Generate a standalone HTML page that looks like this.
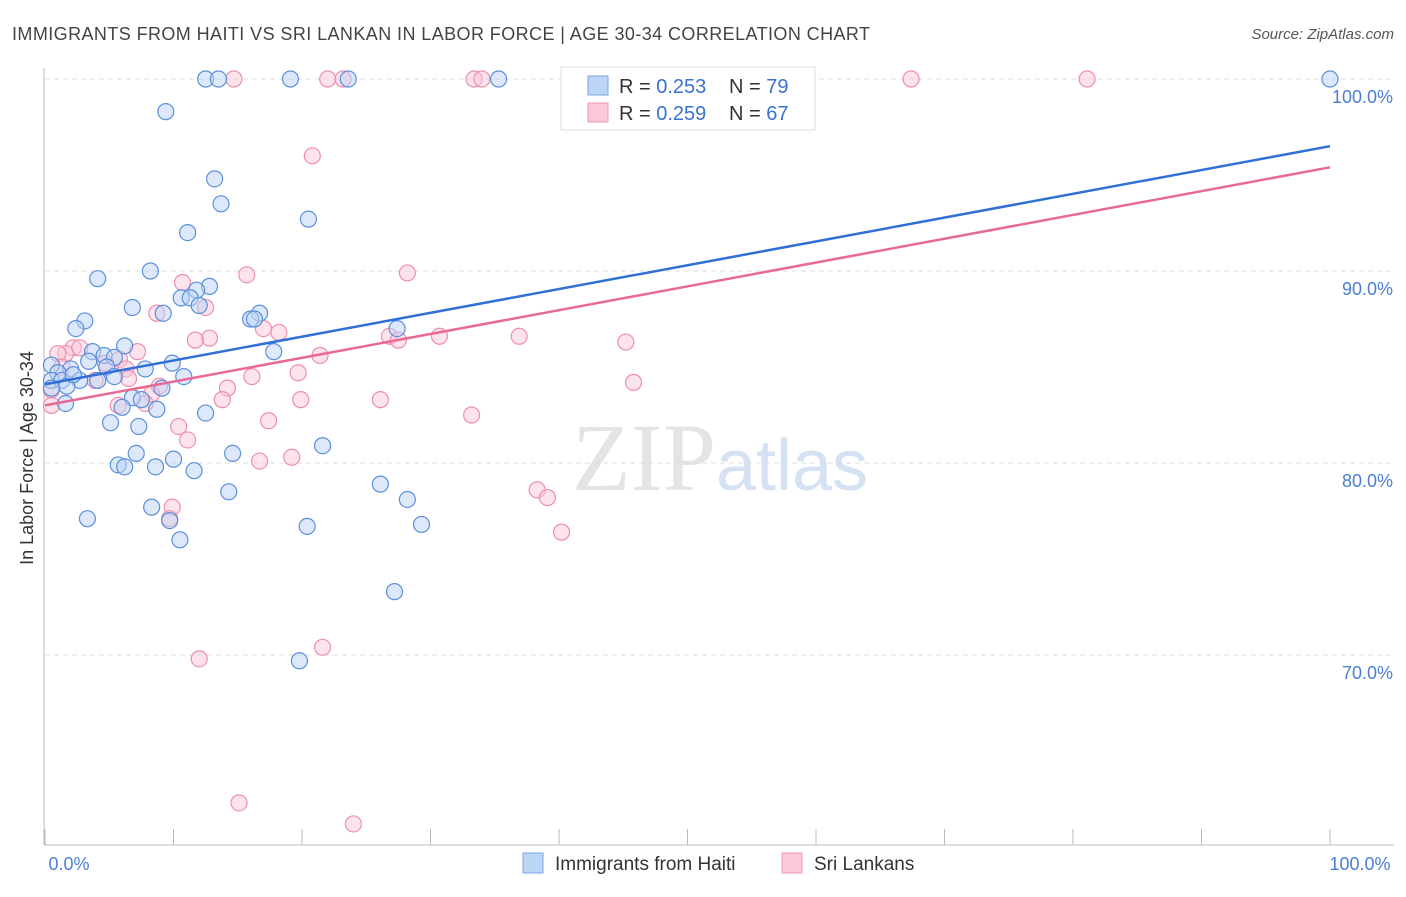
<!DOCTYPE html>
<html><head><meta charset="utf-8"><style>
body{margin:0;background:#fff;font-family:"Liberation Sans",sans-serif}
</style></head><body>
<svg width="1406" height="892" xmlns="http://www.w3.org/2000/svg" font-family="Liberation Sans, sans-serif">
<text x="12" y="40" font-size="18" fill="#444" textLength="858" lengthAdjust="spacing">IMMIGRANTS FROM HAITI VS SRI LANKAN IN LABOR FORCE | AGE 30-34 CORRELATION CHART</text>
<text x="1394" y="39" font-size="15" fill="#555" font-style="italic" text-anchor="end">Source: ZipAtlas.com</text>
<text x="33" y="458" font-size="18" fill="#333" text-anchor="middle" transform="rotate(-90 33 458)">In Labor Force | Age 30-34</text>
<text x="720" y="490" font-size="96" fill="#e4e4e4" text-anchor="middle" font-family="Liberation Serif, serif">ZIP<tspan fill="#d5e2f3" font-family="Liberation Sans, sans-serif" font-size="72">atlas</tspan></text>
<g id="grid"></g><g id="axes"></g><g id="pts"></g><g id="lines"></g>
<g>
<rect x="561" y="67" width="254" height="63" fill="#fff" stroke="#ddd"/>
<rect x="588" y="76" width="20" height="19" fill="#bcd4f5" stroke="#7aa6e6"/>
<rect x="588" y="103" width="20" height="19" fill="#fbc8d8" stroke="#ee9ab5"/>
<text x="619" y="93" font-size="20" fill="#333">R = <tspan fill="#3a72d0">0.253</tspan></text>
<text x="729" y="93" font-size="20" fill="#333">N = <tspan fill="#3a72d0">79</tspan></text>
<text x="619" y="120" font-size="20" fill="#333">R = <tspan fill="#3a72d0">0.259</tspan></text>
<text x="729" y="120" font-size="20" fill="#333">N = <tspan fill="#3a72d0">67</tspan></text>
</g>
<g>
<rect x="523" y="853" width="20" height="20" fill="#bcd4f5" stroke="#7aa6e6"/>
<text x="555" y="870" font-size="19" fill="#333">Immigrants from Haiti</text>
<rect x="782" y="853" width="20" height="20" fill="#fbc8d8" stroke="#ee9ab5"/>
<text x="814" y="870" font-size="19" fill="#333">Sri Lankans</text>
</g>
</svg>
<script>
const yTicks=[100,90,80,70];
const yTickLabels=["100.0%","90.0%","80.0%","70.0%"];
const haitiX=[12.5,13.5,19.1,23.6,35.3,100,9.4,13.2,13.7,20.5,11.1,8.2,4.1,12.8,11.8,10.6,11.3,6.8,12.0,9.2,16.7,16.0,16.3,3.1,2.4,27.4,6.2,17.8,3.7,4.6,5.4,3.4,9.9,7.8,0.5,2.0,4.8,1.0,5.4,10.8,4.1,2.7,0.5,1.3,1.7,9.1,6.8,7.5,1.6,6.0,8.7,12.5,5.1,7.3,21.6,7.1,14.6,10.0,5.7,6.2,8.6,11.6,26.1,14.3,28.2,8.3,3.3,9.7,20.4,29.3,10.5,27.2,19.8,0.5,2.2];
const haitiY=[100,100,100,100,100,100,98.3,94.8,93.5,92.7,92.0,90.0,89.6,89.2,89.0,88.6,88.6,88.1,88.2,87.8,87.8,87.5,87.5,87.4,87.0,87.0,86.1,85.8,85.8,85.6,85.5,85.3,85.2,84.9,85.1,84.9,85.0,84.7,84.5,84.5,84.3,84.3,84.3,84.3,84.0,83.9,83.4,83.3,83.1,82.9,82.8,82.6,82.1,81.9,80.9,80.5,80.5,80.2,79.9,79.8,79.8,79.6,78.9,78.5,78.1,77.7,77.1,77.0,76.7,76.8,76.0,73.3,69.7,83.9,84.6];
const lankaX=[14.7,22.0,23.2,33.4,34.0,67.4,81.1,20.8,15.7,28.2,10.7,8.7,12.5,17.0,18.2,12.8,11.7,26.8,27.5,30.7,36.9,45.2,2.2,2.7,1.6,1.0,7.2,21.4,5.8,6.3,4.7,1.3,19.7,16.1,6.5,3.9,45.8,8.9,14.2,8.3,19.9,13.8,26.1,5.7,7.8,0.5,33.2,17.4,10.4,11.1,16.7,19.2,38.3,39.1,9.9,9.7,40.2,12.0,21.6,15.1,24.0,0.5];
const lankaY=[100,100,100,100,100,100,100,96.0,89.8,89.9,89.4,87.8,88.1,87.0,86.8,86.5,86.4,86.6,86.4,86.6,86.6,86.3,86.0,86.0,85.7,85.7,85.8,85.6,85.4,84.9,85.2,85.0,84.7,84.5,84.4,84.3,84.2,84.0,83.9,83.6,83.3,83.3,83.3,83.0,83.1,83.0,82.5,82.2,81.9,81.2,80.1,80.3,78.6,78.2,77.7,77.1,76.4,69.8,70.4,62.3,61.2,83.8];
const haitiTrend=[84.1,96.5];
const lankaTrend=[83.0,95.4];
const NS="http://www.w3.org/2000/svg";
const xs=v=>45+v*12.85;
const ys=v=>79+(100-v)*19.2;
function mk(t,a,p){const e=document.createElementNS(NS,t);for(const k in a)e.setAttribute(k,a[k]);document.getElementById(p).appendChild(e);return e;}
yTicks.forEach((t,i)=>{
 const g=mk('line',{x1:45,x2:1394,y1:ys(t),y2:ys(t),stroke:'#ddd','stroke-dasharray':'5,4'},'grid');
 
 
 const l=mk('text',{x:1393,y:ys(t)+24,'font-size':18,fill:'#4a7fd4','text-anchor':'end'},'axes');
 l.textContent=yTickLabels[i];
 
 
});
const ax=mk('line',{x1:44,x2:44,y1:68,y2:845,stroke:'#bbb'},'axes');


const bx=mk('line',{x1:44,x2:1394,y1:845,y2:845,stroke:'#bbb'},'axes');


for(let i=0;i<=10;i++){
 const t=mk('line',{x1:xs(i*10),x2:xs(i*10),y1:829,y2:845,stroke:'#bbb'},'axes');
 
 
}
[["0.0%",69,'middle'],["100.0%",1360,'middle']].forEach(a=>{
 const t=mk('text',{x:a[1],y:870,'font-size':18,fill:'#4a7fd4','text-anchor':a[2]},'axes');
 t.textContent=a[0];
 
 
});
function dots(X,Y,fill,stroke,name){X.forEach((x,i)=>{
 const c=mk('circle',{cx:xs(x),cy:ys(Y[i]),r:8,fill:fill,'fill-opacity':0.5,stroke:stroke,'stroke-width':1.2},'pts');
 
 
});}
dots(lankaX,lankaY,'#fbc8d8','#ec8fb0','srilankan-point');
dots(haitiX,haitiY,'#bcd4f5','#5b8fdc','haiti-point');
const l1=mk('line',{x1:xs(0),y1:ys(haitiTrend[0]),x2:xs(100),y2:ys(haitiTrend[1]),stroke:'#2f6fd6','stroke-width':2.5},'lines');


const l2=mk('line',{x1:xs(0),y1:ys(lankaTrend[0]),x2:xs(100),y2:ys(lankaTrend[1]),stroke:'#e86a93','stroke-width':2.5},'lines');


</script>
</body></html>
